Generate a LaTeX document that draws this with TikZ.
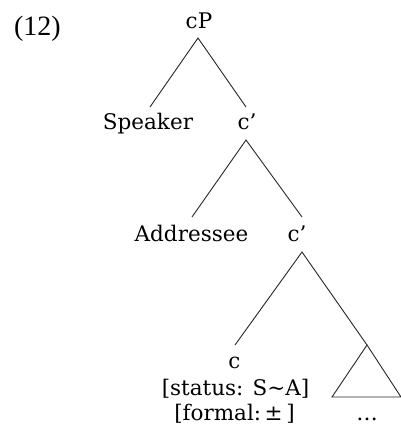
\documentclass[tikz,border=0pt]{standalone}
\usepackage{fontspec}
\setmainfont{DejaVu Serif}
\newfontfamily\exfont{Liberation Serif}
\begin{document}
\begin{tikzpicture}[x=1pt,y=-1pt,
  lab/.style={anchor=base,inner sep=0pt,font=\fontsize{21.5}{25}\selectfont},
  br/.style={line width=0.9pt,draw=black!85}]
\useasboundingbox (0,0) rectangle (401,437);
\node[anchor=base,inner sep=0pt,font=\exfont\fontsize{28}{30}\selectfont] (ex) at (37.5,35) {(12)};
\node[lab] (cP) at (199,28) {cP};
\node[lab] (sp) at (148,129) {Speaker};
\node[lab] (c1) at (247,129) {c’};
\node[lab] (ad) at (191.5,241) {Addressee};
\node[lab] (c2) at (297,241) {c’};
\node[lab] (c) at (234.5,368) {c};
\node[lab] (stat) at (235.5,395) {[status: S∼A]};
\node[lab] (form) at (234.5,420) {[formal:\,±\,]};
\node[lab] (dots) at (367,420) {…};
\coordinate (cPb) at (198,38);
\coordinate (spt) at (150,107);
\coordinate (c1t) at (246,107);
\coordinate (c1b) at (246,140);
\coordinate (adt) at (192,217);
\coordinate (c2t) at (302,217);
\coordinate (c2b) at (302,252);
\coordinate (ct) at (235,345);
\coordinate (tri) at (367,345);
\coordinate (trl) at (332,397);
\coordinate (trr) at (401,397);
\draw[br] (spt) -- (cPb) -- (c1t);
\draw[br] (adt) -- (c1b) -- (c2t);
\draw[br] (ct) -- (c2b) -- (tri);
\draw[br] (tri) -- (trl) -- (trr) -- cycle;
\end{tikzpicture}
\end{document}
